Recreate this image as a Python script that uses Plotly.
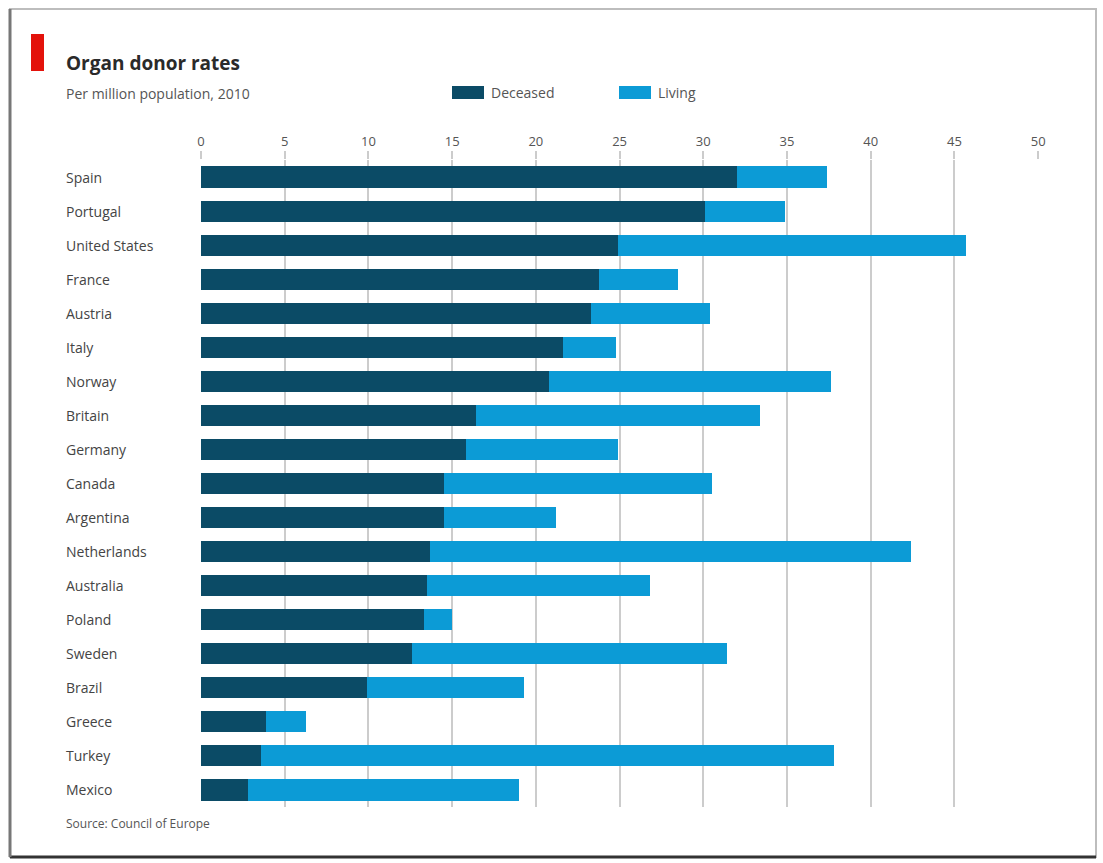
import plotly.graph_objects as go

countries = ["Spain", "Portugal", "United States", "France", "Austria", "Italy", "Norway",
             "Britain", "Germany", "Canada", "Argentina", "Netherlands", "Australia",
             "Poland", "Sweden", "Brazil", "Greece", "Turkey", "Mexico"]
deceased = [32.0, 30.1, 24.9, 23.8, 23.3, 21.6, 20.8, 16.4, 15.8, 14.5, 14.5, 13.7, 13.5,
            13.3, 12.6, 9.9, 3.9, 3.6, 2.8]
totals = [37.4, 34.9, 45.7, 28.5, 30.4, 24.8, 37.6, 33.4, 24.9, 30.5, 21.2, 42.4, 26.8,
          15.0, 31.4, 19.3, 6.3, 37.8, 19.0]
living = [round(t - d, 1) for t, d in zip(totals, deceased)]
tick_vals = [0, 5, 10, 15, 20, 25, 30, 35, 40, 45, 50]

C_DEC = "#0b4b66"
C_LIV = "#0c9bd6"
FONT = "Open Sans"

W, H = 1103, 863
L, R, T, B = 201, 1039, 160, 807


def px(x):
    return (x - L) / (R - L)


def py(y):
    return (B - y) / (B - T)


fig = go.Figure()
fig.add_trace(go.Bar(y=countries, x=deceased, orientation="h", marker_color=C_DEC,
                     name="Deceased", showlegend=False, marker_line_width=0))
fig.add_trace(go.Bar(y=countries, x=living, orientation="h", marker_color=C_LIV,
                     name="Living", showlegend=False, marker_line_width=0))

shapes = [
    # frame
    dict(type="rect", xref="paper", yref="paper", x0=px(10), x1=px(1096), y0=py(857), y1=py(9),
         line=dict(color="#bdbdbd", width=2), fillcolor="rgba(0,0,0,0)", layer="below"),
    dict(type="line", xref="paper", yref="paper", x0=px(10), x1=px(1096), y0=py(857), y1=py(857),
         line=dict(color="#333333", width=3)),
    dict(type="line", xref="paper", yref="paper", x0=px(10), x1=px(10), y0=py(857), y1=py(9),
         line=dict(color="#777777", width=3)),
    # red marker
    dict(type="rect", xref="paper", yref="paper", x0=px(31), x1=px(44), y0=py(71), y1=py(34),
         fillcolor="#e3120b", line=dict(width=0)),
    # legend swatches
    dict(type="rect", xref="paper", yref="paper", x0=px(452), x1=px(484), y0=py(99), y1=py(86),
         fillcolor=C_DEC, line=dict(width=0)),
    dict(type="rect", xref="paper", yref="paper", x0=px(619), x1=px(651), y0=py(99), y1=py(86),
         fillcolor=C_LIV, line=dict(width=0)),
]

annotations = [
    dict(text="<b>Organ donor rates</b>", xref="paper", yref="paper", x=px(64), y=py(63),
         xanchor="left", yanchor="middle", showarrow=False, font=dict(family=FONT, size=19, color="#2a2a2a")),
    dict(text="Per million population, 2010", xref="paper", yref="paper", x=px(64), y=py(93),
         xanchor="left", yanchor="middle", showarrow=False, font=dict(family=FONT, size=14, color="#555555")),
    dict(text="Deceased", xref="paper", yref="paper", x=px(489), y=py(92),
         xanchor="left", yanchor="middle", showarrow=False, font=dict(family=FONT, size=14, color="#555555")),
    dict(text="Living", xref="paper", yref="paper", x=px(656), y=py(92),
         xanchor="left", yanchor="middle", showarrow=False, font=dict(family=FONT, size=14, color="#555555")),
    dict(text="Source: Council of Europe", xref="paper", yref="paper", x=px(64), y=py(823),
         xanchor="left", yanchor="middle", showarrow=False, font=dict(family=FONT, size=12, color="#555555")),
]
for c in countries:
    annotations.append(dict(text=c, xref="paper", yref="y", x=px(64), y=c, xanchor="left",
                            yanchor="middle", showarrow=False,
                            font=dict(family=FONT, size=14, color="#444444")))

fig.update_layout(
    width=W, height=H,
    margin=dict(l=L, r=W - R, t=T, b=H - B, pad=0),
    barmode="stack", bargap=0.38,
    paper_bgcolor="white", plot_bgcolor="white",
    shapes=shapes, annotations=annotations,
    xaxis=dict(side="top", range=[0, 50.05], tickvals=tick_vals, showgrid=True,
               gridcolor="#cccccc", gridwidth=1.5, zeroline=False, showline=False,
               ticks="outside", ticklen=8, tickcolor="#cccccc", tickwidth=1.5,
               tickfont=dict(family=FONT, size=13, color="#555555"), fixedrange=True),
    yaxis=dict(categoryorder="array", categoryarray=countries, autorange="reversed",
               showticklabels=False, showgrid=False, zeroline=False, showline=False),
    showlegend=False,
)

fig.write_html("out.html")
